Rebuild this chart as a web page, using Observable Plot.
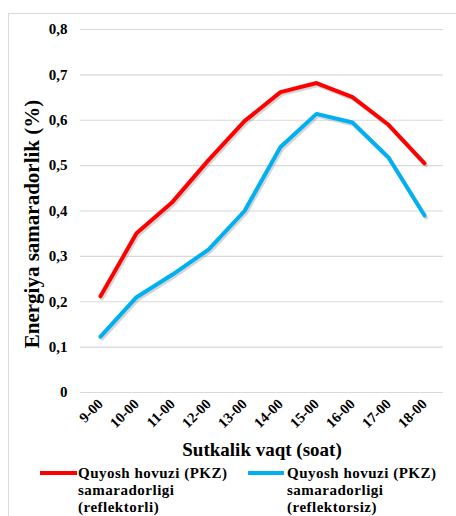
<!DOCTYPE html>
<html><head><meta charset="utf-8">
<script src="https://cdn.jsdelivr.net/npm/d3@7"></script>
<script src="https://cdn.jsdelivr.net/npm/@observablehq/plot@0.6"></script>
</head>
<body style="margin:0;background:#fff;font-family:'Liberation Serif',serif">
<div id="wrap" style="position:relative;width:456px;height:516px;overflow:hidden;font-family:'Liberation Serif',serif">
<div style="position:absolute;left:8px;top:13px;width:470px;height:520px;border:1.5px solid #d9d9d9;box-sizing:border-box"></div>
<div id="chart" style="position:absolute;left:0;top:0"></div>
<div style="position:absolute;top:465px;left:40px;white-space:nowrap;font-weight:bold;font-size:15px;line-height:17px;letter-spacing:0.5px;font-family:'Liberation Serif',serif"><div style="position:absolute;top:6px;left:0;height:4px;width:37px;background:#ff0000"></div><div style="margin-left:38px">Quyosh hovuzi (PKZ)<br>samaradorligi<br>(reflektorli)</div></div>
<div style="position:absolute;top:465px;left:248px;white-space:nowrap;font-weight:bold;font-size:15px;line-height:17px;letter-spacing:0.5px;font-family:'Liberation Serif',serif"><div style="position:absolute;top:6px;left:0;height:4px;width:36px;background:#00b0f0"></div><div style="margin-left:39px">Quyosh hovuzi (PKZ)<br>samaradorligi<br>(reflektorsiz)</div></div>
</div>
<script>
const hours = ["9-00","10-00","11-00","12-00","13-00","14-00","15-00","16-00","17-00","18-00"];
const withReflector = [0.212,0.351,0.42,0.512,0.598,0.662,0.682,0.651,0.59,0.505];
const withoutReflector = [0.123,0.21,0.26,0.315,0.40,0.541,0.614,0.595,0.518,0.39];
const yTicks = [0,0.1,0.2,0.3,0.4,0.5,0.6,0.7,0.8];
const seriesNames = ["Quyosh hovuzi (PKZ) samaradorligi (reflektorli)","Quyosh hovuzi (PKZ) samaradorligi (reflektorsiz)"];
const colors = ["#ff0000","#00b0f0"];
const FF = "'Liberation Serif', serif";

const data = [];
hours.forEach((h,i)=>{
  data.push({h, v: withReflector[i], s: seriesNames[0]});
  data.push({h, v: withoutReflector[i], s: seriesNames[1]});
});

const chart = Plot.plot({
  width: 456, height: 462,
  marginLeft: 80, marginRight: 13, marginTop: 29, marginBottom: 70,
  style: {fontWeight: "bold", background: "transparent", color: "#000"},
  x: {type: "point", domain: hours, padding: 0.5},
  y: {domain: [0, 0.8]},
  color: {domain: seriesNames, range: colors},
  marks: [
    Plot.ruleY(yTicks, {stroke: "#d9d9d9", strokeWidth: 1.2}),
    Plot.axisY({ticks: yTicks, tickSize: 0, tickPadding: 13, fontSize: 15, fontWeight: "bold",
      tickFormat: d => d === 0 ? "0" : d.toFixed(1).replace(".", ","),
      label: null}),
    Plot.text(["Energiya samaradorlik (%)"], {frameAnchor: "left", textAnchor: "middle", dx: -48, dy: 13, rotate: -90, fontSize: 21, fontWeight: "bold", fill: "#000"}),
    Plot.axisX({tickSize: 0, tickRotate: -45, fontSize: 14.5, fontWeight: "bold", tickPadding: 9, label: null}),
    Plot.text(["Sutkalik vaqt (soat)"], {frameAnchor: "bottom", textAnchor: "middle", lineAnchor: "middle", dy: 57, fontSize: 19, fontWeight: "bold", fill: "#000"}),
    Plot.line(data, {x: "h", y: "v", z: "s", stroke: "#888", strokeOpacity: 0.35, strokeWidth: 4, dx: 1.5, dy: 2}),
    Plot.line(data, {x: "h", y: "v", z: "s", stroke: "s", strokeWidth: 4})
  ]
});
chart.style.fontFamily = FF;
d3.select(chart).selectAll("text, g").style("font-family", FF);
document.getElementById("chart").appendChild(chart);
</script></body></html>
